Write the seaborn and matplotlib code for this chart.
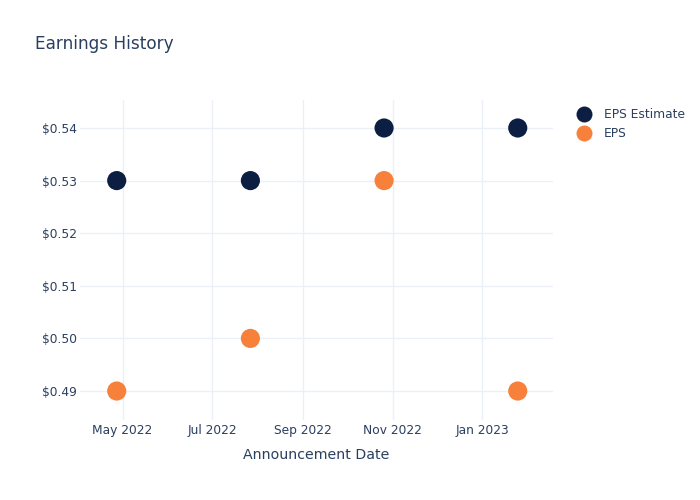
import matplotlib
matplotlib.use("Agg")
import matplotlib.pyplot as plt
import matplotlib.dates as mdates
from matplotlib.ticker import FuncFormatter
from matplotlib.lines import Line2D
import seaborn as sns
import pandas as pd

dates = ["2022-04-27", "2022-07-27", "2022-10-26", "2023-01-25"]
eps_estimate = [0.53, 0.53, 0.54, 0.54]
eps_actual = [0.49, 0.50, 0.53, 0.49]
series_names = ["EPS Estimate", "EPS"]
colors = {"EPS Estimate": "#0C1F42", "EPS": "#F7803A"}

df = pd.DataFrame({
    "date": pd.to_datetime(dates * 2),
    "value": eps_estimate + eps_actual,
    "series": [series_names[0]] * len(dates) + [series_names[1]] * len(dates),
})

sns.set_theme(style="white")
plt.rcParams["font.family"] = ["DejaVu Sans"]
text_color = "#2a3f5f"
grid_color = "#EBF0F8"

fig = plt.figure(figsize=(7, 5), dpi=100)
ax = fig.add_axes([80 / 700, 1 - 420 / 500, (553 - 80) / 700, 320 / 500])

sns.scatterplot(data=df, x="date", y="value", hue="series", palette=colors,
                s=190, edgecolor="none", linewidth=0, ax=ax, legend=False, zorder=3)

ax.set_xlim(pd.Timestamp("2022-04-02"), pd.Timestamp("2023-02-18"))
ax.set_ylim(0.48449, 0.54532)
ax.xaxis.set_major_locator(mdates.MonthLocator(bymonth=[1, 3, 5, 7, 9, 11]))
ax.xaxis.set_major_formatter(mdates.DateFormatter("%b %Y"))
ax.set_yticks([0.49, 0.50, 0.51, 0.52, 0.53, 0.54])
ax.yaxis.set_major_formatter(FuncFormatter(lambda v, p: f"${v:.2f}"))

ax.grid(True, color=grid_color, linewidth=1, zorder=0)
ax.set_axisbelow(True)
for s in ax.spines.values():
    s.set_visible(False)
ax.tick_params(axis="both", length=0, labelsize=8.8, labelcolor=text_color)
ax.tick_params(axis="y", pad=2.5)
ax.tick_params(axis="x", pad=3)
ax.set_ylabel("")
ax.set_xlabel("Announcement Date", fontsize=10.2, color=text_color, labelpad=8)

fig.text(35 / 700, 1 - 44 / 500, "Earnings History", fontsize=12.2,
         color=text_color, va="center", ha="left")

handles = [Line2D([0], [0], marker="o", linestyle="", markersize=11.5,
                  markerfacecolor=colors[n], markeredgecolor="none") for n in series_names]
fig.legend(handles, series_names, loc="upper left",
           bbox_to_anchor=(570 / 700, 1 - 103 / 500), frameon=False,
           fontsize=8.8, labelcolor=text_color, handletextpad=0.9,
           labelspacing=0.5, borderaxespad=0, handlelength=1.5)

fig.savefig("out.png", dpi=100)
